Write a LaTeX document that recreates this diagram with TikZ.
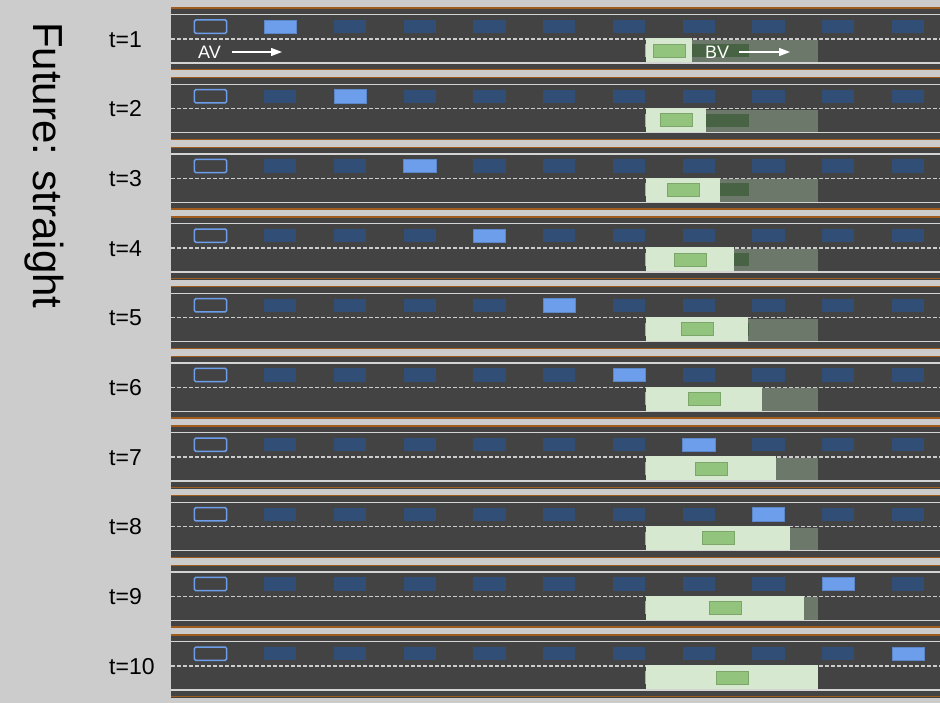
\documentclass[tikz,border=0pt]{standalone}
\usepackage{fontspec}
\setmainfont{Liberation Sans}
\usetikzlibrary{arrows.meta}
\definecolor{bgc}{HTML}{CCCCCC}
\definecolor{roadc}{HTML}{434343}
\definecolor{edgec}{HTML}{A05C1C}
\definecolor{linec}{HTML}{D4D4D4}
\definecolor{dashc}{HTML}{CCCCCC}
\definecolor{hlblue}{HTML}{6D9EEB}
\definecolor{dkblue}{HTML}{304E76}
\definecolor{grgreen}{HTML}{6C786A}
\definecolor{ltgreen}{HTML}{D6E8D0}
\definecolor{cargreen}{HTML}{93C47D}
\definecolor{dkgreen}{HTML}{476343}
\tikzset{
  edgeline/.style={draw=edgec, line width=1.4pt},
  laneline/.style={draw=linec, line width=1.3pt},
  dashline/.style={draw=dashc, line width=1.3pt, dash pattern=on 4pt off 2pt},
  carbox/.style={fill=dkblue},
  avcar/.style={fill=hlblue, draw=hlblue!85!black, line width=0.5pt},
  avstart/.style={draw=hlblue, line width=1.5pt, rounded corners=1.5pt},
  tlabel/.style={anchor=west, inner sep=0pt, font=\fontsize{23}{27}\selectfont},
  roadlabel/.style={anchor=base west, inner sep=0pt, text=white, font=\fontsize{18}{22}\selectfont},
  whitearrow/.style={draw=white, line width=1.3pt, -{Triangle[length=11pt,width=8pt]}},
}
\begin{document}
\begin{tikzpicture}[x=1pt,y=-1pt]
\fill[bgc] (0,0) rectangle (940,703);
\useasboundingbox (0,0) rectangle (940,703);
\node[rotate=-90, anchor=base west, inner sep=0pt, font=\fontsize{42}{50}\selectfont] (title) at (33,22) {Future: straight};
\foreach \t in {1,...,10}{
  \pgfmathsetmacro{\T}{7.3+(\t-1)*69.67}
  \pgfmathsetmacro{\L}{692+14*(\t-1)}
  \pgfmathsetmacro{\C}{653+7*(\t-1)}
  \fill[roadc] (171,\T) rectangle (940,\T+63.2);
  \draw[edgeline] (171,\T+0.7) -- (940,\T+0.7);
  \draw[edgeline] (171,\T+62.4) -- (940,\T+62.4);
  \draw[laneline] (171,\T+7.3) -- (940,\T+7.3);
  \draw[laneline] (171,\T+55.7) -- (940,\T+55.7);
  \draw[avstart] (194.3,\T+12.7) rectangle (226.7,\T+26);
  \foreach \k in {1,...,10}{
    \pgfmathsetmacro{\X}{194.3+69.75*\k}
    \ifnum\k=\t
      \fill[avcar] (\X,\T+12.7) rectangle (\X+32.4,\T+26);
    \else
      \fill[carbox] (\X,\T+12.7) rectangle (\X+32.4,\T+26);
    \fi
  }
  \fill[grgreen] (646,\T+32.6) rectangle (818,\T+55);
  \fill[dkgreen] (647,\T+36.7) rectangle (749,\T+49.7);
  \fill[cargreen] (645,\T+36.7) rectangle (647,\T+49.7);
  \draw[dashline] (171,\T+31.7) -- (940,\T+31.7);
  \fill[ltgreen] (646,\T+31) rectangle (\L,\T+55);
  \fill[cargreen, draw=cargreen!85!black, line width=0.4pt] (\C,\T+36.7) rectangle (\C+32.5,\T+49.7);
  \node[tlabel] (lbl\t) at (109,\T+32) {t=\t};
}
\node[roadlabel] (av) at (198,58.3) {AV};
\coordinate (avs) at (232,52);
\coordinate (ave) at (282,52);
\draw[whitearrow] (avs) -- (ave);
\node[roadlabel] (bv) at (705,58.3) {BV};
\coordinate (bvs) at (739,52);
\coordinate (bve) at (790,52);
\draw[whitearrow] (bvs) -- (bve);
\end{tikzpicture}
\end{document}
